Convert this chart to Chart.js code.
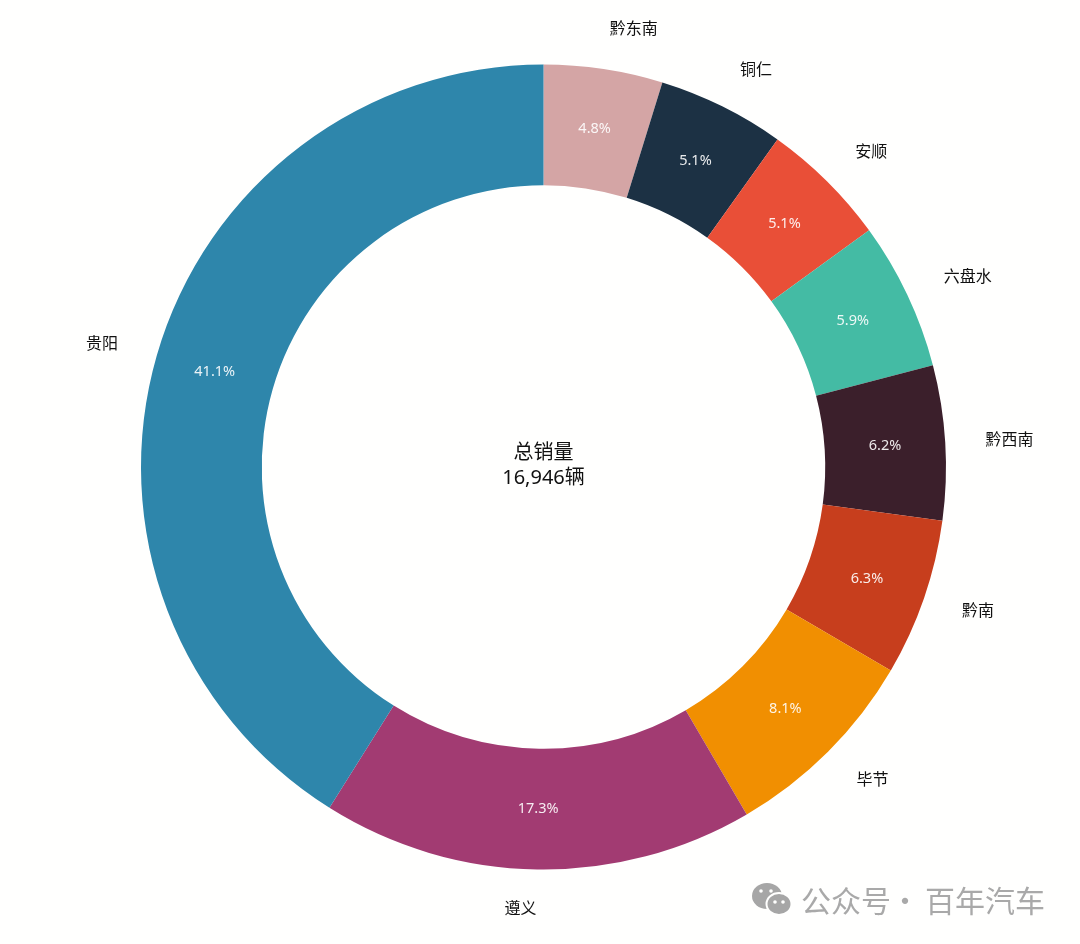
<!DOCTYPE html>
<html lang="zh">
<head>
<meta charset="utf-8">
<style>
html,body{margin:0;padding:0;background:#fffffe;}
#wrap{position:relative;width:1080px;height:944px;}
canvas{display:block;}
</style>
<script src="https://cdn.jsdelivr.net/npm/chart.js@4"></script>
</head>
<body>
<div id="wrap"><canvas id="c" width="1080" height="944"></canvas></div>
<script>
const categories = ["黔东南","铜仁","安顺","六盘水","黔西南","黔南","毕节","遵义","贵阳"];
const shares = [4.77,5.1,5.12,5.93,6.2,6.3,8.14,17.34,41.06];
const colors = ["#D4A5A5","#1C3144","#E94F37","#44BBA4","#3B1F2B","#C73E1D","#F18F01","#A23B72","#2E86AB"];
const centerLines = ["总销量","16,946辆"];
const watermarkParts = ["公众号","·","百年汽车"];

const FONT = '"Noto Sans","Noto Sans CJK SC",sans-serif';

const labelPlugin = {
  id: 'labelPlugin',
  afterDatasetsDraw(chart) {
    const ctx = chart.ctx;
    const arcs = chart.getDatasetMeta(0).data;
    ctx.save();
    ctx.textBaseline = 'middle';
    arcs.forEach((arc, i) => {
      const p = arc.getProps(['x','y','startAngle','endAngle','outerRadius'], true);
      const a = (p.startAngle + p.endAngle) / 2;
      const R = p.outerRadius;
      const ox = p.x + Math.cos(a) * R * 1.1;
      const oy = p.y + Math.sin(a) * R * 1.1;
      ctx.font = '16px ' + FONT;
      ctx.fillStyle = '#111111';
      ctx.textAlign = Math.cos(a) >= 0 ? 'left' : 'right';
      ctx.fillText(categories[i], ox, oy);
      ctx.font = '14.5px ' + FONT;
      ctx.fillStyle = 'rgba(255,255,255,0.9)';
      ctx.textAlign = 'center';
      ctx.fillText(shares[i].toFixed(1) + '%', p.x + Math.cos(a) * R * 0.85, p.y + Math.sin(a) * R * 0.85);
    });
    const c = arcs[0];
    ctx.font = '20px ' + FONT;
    ctx.fillStyle = '#111111';
    ctx.textAlign = 'center';
    ctx.fillText(centerLines[0], c.x, c.y - 14);
    ctx.fillText(centerLines[1], c.x, c.y + 11);

    // watermark
    ctx.fillStyle = '#a9a9a9';
    ctx.font = '30px "Noto Sans CJK SC",' + FONT;
    ctx.textAlign = 'left';
    ctx.fillText(watermarkParts[0], 801, 901);
    ctx.fillText(watermarkParts[2], 925, 901);
    ctx.textAlign = 'center';
    ctx.fillText(watermarkParts[1], 905, 901);
    ctx.fillStyle = '#a6a6a6';
    ctx.beginPath(); ctx.ellipse(767, 896, 15, 13, 0, 0, Math.PI * 2); ctx.fill();
    ctx.strokeStyle = '#fffffe'; ctx.lineWidth = 2; ctx.fillStyle = '#a6a6a6';
    ctx.beginPath(); ctx.ellipse(779, 904, 12.5, 11, 0, 0, Math.PI * 2); ctx.fill(); ctx.stroke();
    ctx.fillStyle = '#fffffe';
    [[761,891],[771,891],[775,902],[783,902]].forEach(d => {
      ctx.beginPath(); ctx.arc(d[0], d[1], 1.8, 0, Math.PI * 2); ctx.fill();
    });
    ctx.restore();
  }
};

new Chart(document.getElementById('c'), {
  type: 'doughnut',
  data: {
    labels: categories,
    datasets: [{ data: shares, backgroundColor: colors, borderWidth: 0, hoverOffset: 0 }]
  },
  options: {
    responsive: false,
    animation: false,
    cutout: '70%',
    layout: { padding: { left: 141, right: 134, top: 64, bottom: 74 } },
    plugins: { legend: { display: false }, tooltip: { enabled: false } },
    events: []
  },
  plugins: [labelPlugin]
});
</script>
</body>
</html>
